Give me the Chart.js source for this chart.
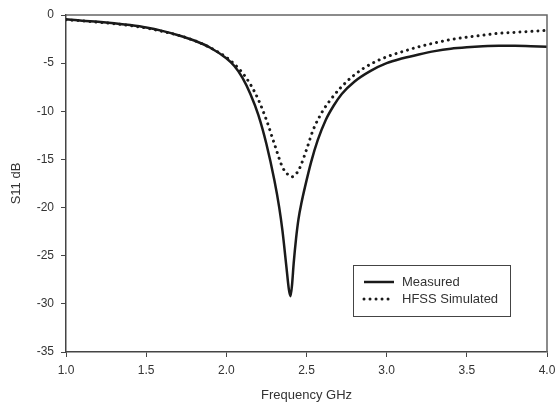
<!DOCTYPE html>
<html><head><meta charset="utf-8">
<script src="https://cdn.jsdelivr.net/npm/chart.js@4/dist/chart.umd.min.js"></script>
<style>html,body{margin:0;padding:0;background:#fff;}canvas{display:block;}</style>
</head><body>
<canvas id="c" width="555" height="409"></canvas>
<script>
const freqMeasured = [1.0,1.1,1.2,1.3,1.4,1.5,1.6,1.7,1.8,1.9,2.0,2.05,2.1,2.15,2.2,2.25,2.3,2.33,2.35,2.375,2.39,2.40,2.41,2.42,2.435,2.45,2.47,2.49,2.53,2.57,2.62,2.67,2.72,2.8,2.9,3.0,3.1,3.2,3.3,3.4,3.5,3.6,3.7,3.8,3.9,4.0];
const measured = [-0.45,-0.6,-0.7,-0.85,-1.05,-1.3,-1.65,-2.1,-2.65,-3.4,-4.5,-5.3,-6.5,-8.2,-10.4,-13.4,-17.2,-20.0,-22.4,-26.2,-28.5,-29.2,-28.0,-25.8,-23.2,-21.2,-19.4,-17.9,-15.2,-13.0,-10.9,-9.4,-8.2,-6.9,-5.8,-5.0,-4.5,-4.1,-3.75,-3.5,-3.35,-3.25,-3.2,-3.2,-3.25,-3.3];
const freqSimulated = [1.0,1.1,1.2,1.3,1.4,1.5,1.6,1.7,1.8,1.9,2.0,2.05,2.1,2.15,2.2,2.25,2.3,2.35,2.38,2.41,2.44,2.46,2.5,2.54,2.6,2.65,2.71,2.8,2.9,3.0,3.1,3.2,3.3,3.4,3.5,3.6,3.7,3.8,3.9,4.0];
const simulated = [-0.5,-0.6,-0.75,-0.9,-1.1,-1.35,-1.7,-2.1,-2.65,-3.4,-4.4,-5.1,-6.0,-7.2,-8.8,-10.9,-13.4,-15.8,-16.5,-16.8,-16.4,-15.8,-14.0,-12.0,-10.0,-8.8,-7.6,-6.2,-5.1,-4.35,-3.8,-3.3,-2.9,-2.55,-2.3,-2.1,-1.9,-1.8,-1.7,-1.6];
const seriesNames = ["Measured","HFSS Simulated"];
const xTitle = "Frequency GHz";
const yTitle = "S11 dB";

const FONT = "'Liberation Sans', Arial, sans-serif";
const TXT = "#333";

const framePlugin = {
  id:'frame',
  afterDatasetsDraw(chart){
    const {ctx, chartArea:a} = chart;
    ctx.save();
    ctx.strokeStyle = '#666';
    ctx.lineWidth = 1.5;
    ctx.beginPath();
    ctx.moveTo(a.left, a.top); ctx.lineTo(a.right, a.top); ctx.lineTo(a.right, a.bottom);
    ctx.stroke();
    // legend box
    const bx = a.right - 194, by = a.bottom - 87, bw = 157, bh = 51;
    ctx.fillStyle = '#fff';
    ctx.fillRect(bx, by, bw, bh);
    ctx.strokeStyle = '#444';
    ctx.lineWidth = 1;
    ctx.strokeRect(bx+0.5, by+0.5, bw, bh);
    const ds = chart.data.datasets;
    for (let i=0;i<ds.length;i++){
      const y = by + 17 + i*17;
      ctx.save();
      ctx.strokeStyle = '#1a1a1a';
      ctx.lineWidth = ds[i].borderWidth;
      ctx.lineCap = ds[i].borderCapStyle || 'butt';
      ctx.setLineDash(ds[i].borderDash || []);
      ctx.beginPath();
      ctx.moveTo(bx + 11, y);
      ctx.lineTo(bx + 41, y);
      ctx.stroke();
      ctx.restore();
      ctx.fillStyle = TXT;
      ctx.font = "13px " + FONT;
      ctx.textBaseline = 'middle';
      ctx.fillText(ds[i].label, bx + 49, y);
    }
    ctx.restore();
  }
};

new Chart(document.getElementById('c'), {
  type:'line',
  data:{
    datasets:[
      {label:seriesNames[0], data:freqMeasured.map((f,i)=>({x:f,y:measured[i]})),
       borderColor:'#1a1a1a', borderWidth:2.5, pointRadius:0, cubicInterpolationMode:'monotone', fill:false},
      {label:seriesNames[1], data:freqSimulated.map((f,i)=>({x:f,y:simulated[i]})),
       borderColor:'#1a1a1a', borderWidth:3, borderDash:[0.01,6], borderCapStyle:'round', pointRadius:0, cubicInterpolationMode:'monotone', fill:false}
    ]
  },
  options:{
    responsive:false, animation:false,
    layout:{padding:{left:0,top:15,right:8,bottom:0}},
    plugins:{legend:{display:false}, tooltip:{enabled:false}},
    scales:{
      x:{type:'linear', min:1, max:4,
        afterFit(s){ s.height = 57; s.paddingRight = 0; s.paddingLeft = 0; },
        ticks:{stepSize:0.5, color:TXT, font:{family:FONT,size:12}, padding:6, callback:v=>v.toFixed(1)},
        grid:{drawOnChartArea:false, tickLength:5, color:'#444', lineWidth:1},
        border:{color:'#444', width:1.5},
        title:{display:true, text:xTitle, color:TXT, font:{family:FONT,size:13}, padding:{top:8,bottom:6}}
      },
      y:{type:'linear', min:-35, max:0,
        afterFit(s){ s.width = 66; },
        ticks:{stepSize:5, color:TXT, font:{family:FONT,size:12}, padding:7},
        grid:{drawOnChartArea:false, tickLength:5, color:'#444', lineWidth:1},
        border:{color:'#444', width:1.5},
        title:{display:true, text:yTitle, color:TXT, font:{family:FONT,size:13}, padding:{top:9,bottom:4}}
      }
    }
  },
  plugins:[framePlugin]
});
</script>
</body></html>
